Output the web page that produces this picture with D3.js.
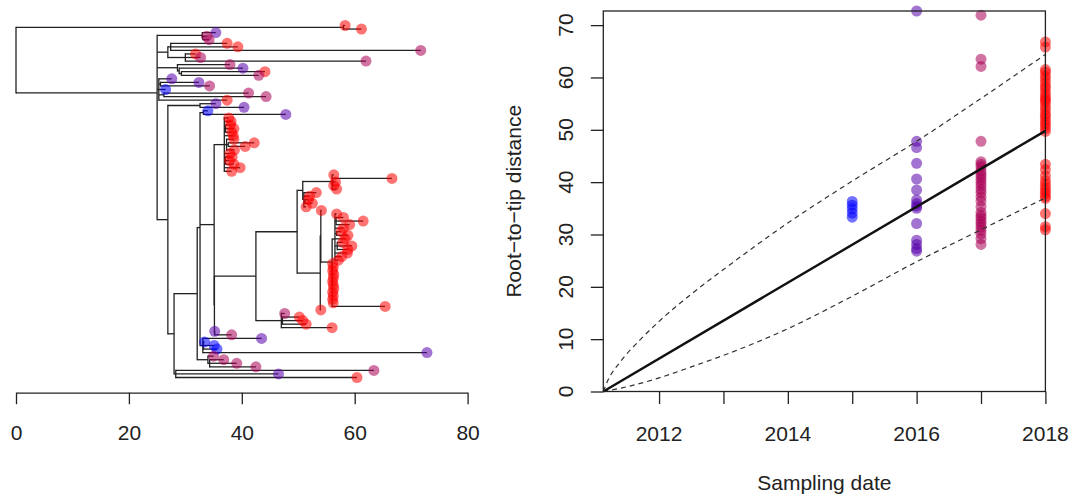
<!DOCTYPE html>
<html>
<head>
<meta charset="utf-8">
<script src="https://cdn.jsdelivr.net/npm/d3@7"></script>
<style>
  body { margin: 0; background: #fff; }
  text { font-family: "Liberation Sans", Arial, sans-serif; fill: #222; }
</style>
</head>
<body>
<svg id="chart" width="1078" height="503"></svg>
<script>
// tree in newick; each tip label is the last digit of its sampling year
const treeNewick =
  "((8:0.3,8:3.2):58.0," +
  "((6:2.4,(7:0.7,7:1.1):0.1):8.0," +
  "((8:10.0,8:11.9,7:44.3):0.5,(8:1.8,7:2.7,7:32.0):3.1):1.9," +
  "(7:9.3,(6:11.3,(8:14.8,7:13.7):0.4):0.3):3.6," +
  "(6:2.3,(6:6.8,7:8.7):0.3,5:1.2,(7:15.0,7:18.1):0.9,8:12.1):0.3," +
  "((6:2.8,6:7.8):5.7," +
   "((((5:0.8,6:14.6):0.6," +
      "((8:0.8,8:1.2,(8:0.9,8:1.5,8:1.1):0.2,8:1.6,(8:1.3,(8:4.6,8:3.0):0.3,8:1.4):0.4,8:1.0,(8:1.2,8:0.7,8:1.5):0.2,8:2.8,8:1.3):1.8," +
       "(((((8:0.3,8:10.6,(8:0.5,8:0.2):0.1,8:0.8):5.2,(8:2.2,8:1.0,(8:0.6,8:1.3):0.2,8:0.4):0.2):1.0," +
           "((8:0.1,((8:0.3,(8:1.3,8:4.8,8:2.4):0.2,8:1.5,(8:0.8,8:2.0):0.3,8:1.8,(8:1.0,8:2.6,8:1.9):0.4,8:2.2,8:1.2,8:0.6):0.5," +
                   "(8:0.1,8:0.2,8:0.1,8:0.3,8:0.2,8:0.1,8:0.2,8:0.3,8:0.1,8:0.2,8:0.1,8:0.2,8:9.4):0.0):2.0):0.1,8:0.1):4.1):7.3," +
          "(7:0.6,(8:3.0,8:3.6,8:4.2):0.2,8:9.0):4.5):7.35," +
         "(6:0.0,7:3.0):0.05):0.05):2.5," +
      "(6:10.4,(5:0.2,5:1.9,5:2.4):0.1,6:39.7):0.5):0.5," +
     "(7:1.0,(7:2.5,7:4.8,7:8.2):0.3):1.9):4.1," +
    "(7:35.1,6:18.2,8:32.1):0.3):1.1):1.9):25.0);";

const sampleYears = [2015, 2016, 2017, 2018];
const yearColors = ["rgba(0,0,255,0.55)", "rgba(85,0,170,0.55)", "rgba(170,0,85,0.55)", "rgba(255,0,0,0.55)"];

// root-to-tip distances per sampling year (right panel)
const dist2015 = [36.3, 35.6, 34.9, 34.1, 33.3];
const dist2016 = [72.7, 47.8, 46.6, 43.6, 40.6, 38.5, 36.6, 35.9, 35.4, 35.0, 32.1, 28.9, 28.1, 27.3, 26.8];
const dist2017 = [71.9, 63.5, 62.1, 47.8, 43.9, 43.4, 42.9, 42.2, 41.6, 41.1, 40.5, 39.9, 39.3, 38.6, 38.0,
                  37.2, 36.4, 35.3, 34.2, 33.6, 33.1, 32.5, 32.0, 31.4, 30.8, 30.1, 29.2, 28.1];
const dist2018 = [66.8, 65.8, 61.5, 61.0, 60.3, 59.7, 59.0, 58.3, 57.8, 57.1, 56.5, 56.0, 55.6, 55.1, 54.4,
                  53.8, 53.1, 52.6, 52.0, 51.4, 50.9, 50.3, 49.7, 43.4, 42.4, 41.2, 40.3, 39.6, 39.0, 38.4,
                  37.9, 37.3, 36.9, 34.0, 31.5, 30.9];

// regression and its envelope
const fitLine = [[2011.134, 0], [2018, 49.8]];
const upperBand = [[2011.134, 0], [2011.2, 2.0], [2011.4, 5.7], [2011.7, 9.8], [2012, 13.4], [2012.5, 18.6],
                   [2013, 23.3], [2014, 32.2], [2015, 40.2], [2016, 47.8], [2017, 56.0], [2018, 64.4]];
const lowerBand = [[2011.134, 0], [2011.5, 0.9], [2012, 2.6], [2012.5, 4.7], [2013, 6.9], [2014, 12.0],
                   [2015, 18.2], [2016, 24.8], [2017, 30.9], [2018, 37.0]];

const treeTicks = [0, 20, 40, 60, 80];
const yearTicks = [2012, 2013, 2014, 2015, 2016, 2017, 2018];
const yearLabels = [2012, 2014, 2016, 2018];
const distTicks = [0, 10, 20, 30, 40, 50, 60, 70];

const svg = d3.select("#chart");
const ink = "#222";
const fontSize = "21px";

function parseNewick(s) {
  let i = 0;
  function node() {
    const n = {};
    if (s[i] === "(") {
      n.children = [];
      i++;
      n.children.push(node());
      while (s[i] === ",") { i++; n.children.push(node()); }
      i++;
    }
    let lab = "";
    while (i < s.length && !":,();".includes(s[i])) lab += s[i++];
    n.name = lab;
    n.length = 0;
    if (s[i] === ":") {
      i++;
      let num = "";
      while (i < s.length && !",();".includes(s[i])) num += s[i++];
      n.length = +num;
    }
    return n;
  }
  return node();
}

// ---------- left panel: tree ----------
const root = d3.hierarchy(parseNewick(treeNewick));
root.eachBefore(d => d.dist = d.parent ? d.parent.dist + d.data.length : 0);
const tips = root.leaves();
tips.forEach((d, i) => d.tipIndex = i);
root.eachAfter(d => d.ty = d.children ? d3.mean(d.children, c => c.ty) : d.tipIndex);

const tx = d3.scaleLinear().domain([0, 80]).range([16, 467.6]);
const ty = d3.scaleLinear().domain([0, tips.length - 1]).range([25.5, 377.5]);

const treeG = svg.append("g");

treeG.selectAll(".hedge")
  .data(root.descendants().filter(d => d.parent))
  .enter()
  .append("line")
  .attr("x1", d => tx(d.parent.dist))
  .attr("x2", d => tx(d.dist))
  .attr("y1", d => ty(d.ty))
  .attr("y2", d => ty(d.ty))
  .attr("stroke", ink)
  .attr("stroke-width", 1.3);

treeG.selectAll(".vedge")
  .data(root.descendants().filter(d => d.children))
  .enter()
  .append("line")
  .attr("x1", d => tx(d.dist))
  .attr("x2", d => tx(d.dist))
  .attr("y1", d => ty(d.children[0].ty) - 0.65)
  .attr("y2", d => ty(d.children[d.children.length - 1].ty) + 0.65)
  .attr("stroke", ink)
  .attr("stroke-width", 1.3);

treeG.selectAll(".tip")
  .data(tips)
  .enter()
  .append("circle")
  .attr("cx", d => tx(d.dist))
  .attr("cy", d => ty(d.ty))
  .attr("r", 5.5)
  .attr("fill", d => yearColors[sampleYears.indexOf(2010 + (+d.data.name))]);

const treeAxis = svg.append("g")
  .attr("transform", "translate(0, 392.7)")
  .call(d3.axisBottom(tx).tickValues(treeTicks).tickSize(11.5).tickSizeOuter(0).tickPadding(20.5));
treeAxis.selectAll("path, line").attr("stroke", ink).attr("stroke-width", 1.3);
treeAxis.selectAll("text").style("font-size", fontSize).style("font-family", "Liberation Sans, Arial, sans-serif").attr("fill", ink);

// ---------- right panel: root-to-tip regression ----------
const x = d3.scaleLinear().domain([2011.134, 2018]).range([603.3, 1045.4]);
const y = d3.scaleLinear().domain([0, 72.7]).range([391.5, 11]);

const points = [dist2015, dist2016, dist2017, dist2018]
  .flatMap((arr, k) => arr.map(v => ({ year: sampleYears[k], dist: v })));

svg.selectAll(".dot")
  .data(points)
  .enter()
  .append("circle")
  .attr("class", "dot")
  .attr("cx", d => x(d.year))
  .attr("cy", d => y(d.dist))
  .attr("r", 5.5)
  .attr("fill", d => yearColors[sampleYears.indexOf(d.year)]);

const line = d3.line().x(d => x(d[0])).y(d => y(d[1]));
const curve = d3.line().x(d => x(d[0])).y(d => y(d[1])).curve(d3.curveMonotoneX);

svg.append("path").attr("d", curve(upperBand))
  .attr("fill", "none").attr("stroke", "#333").attr("stroke-width", 1.2).attr("stroke-dasharray", "5,4");
svg.append("path").attr("d", curve(lowerBand))
  .attr("fill", "none").attr("stroke", "#333").attr("stroke-width", 1.2).attr("stroke-dasharray", "5,4");
svg.append("path").attr("d", line(fitLine))
  .attr("fill", "none").attr("stroke", "#111").attr("stroke-width", 2.4);

// box
svg.append("rect")
  .attr("x", 603.3).attr("y", 11)
  .attr("width", 1045.4 - 603.3).attr("height", 391.5 - 11)
  .attr("fill", "none").attr("stroke", ink).attr("stroke-width", 1.3);

const xAxis = svg.append("g")
  .attr("transform", "translate(0, 391.5)")
  .call(d3.axisBottom(x).tickValues(yearTicks).tickSize(12.5).tickSizeOuter(0)
    .tickFormat(d => yearLabels.includes(d) ? d : ""));
xAxis.select(".domain").remove();
xAxis.selectAll("line").attr("stroke", ink).attr("stroke-width", 1.3);
xAxis.selectAll("text").remove();

svg.selectAll(".xlab")
  .data(yearLabels)
  .enter()
  .append("text")
  .attr("x", d => x(d))
  .attr("y", 440.5)
  .attr("text-anchor", "middle")
  .style("font-size", fontSize)
  .text(d => d);

const yAxis = svg.append("g")
  .attr("transform", "translate(603.3, 0)")
  .call(d3.axisLeft(y).tickValues(distTicks).tickSize(12.5).tickSizeOuter(0).tickFormat(""));
yAxis.select(".domain").remove();
yAxis.selectAll("line").attr("stroke", ink).attr("stroke-width", 1.3);

svg.selectAll(".ylab")
  .data(distTicks)
  .enter()
  .append("text")
  .attr("transform", d => `translate(573, ${y(d)}) rotate(-90)`)
  .attr("text-anchor", "middle")
  .style("font-size", fontSize)
  .text(d => d);

svg.append("text")
  .attr("x", (603.3 + 1045.4) / 2)
  .attr("y", 490)
  .attr("text-anchor", "middle")
  .style("font-size", fontSize)
  .text("Sampling date");

svg.append("text")
  .attr("transform", `translate(521, ${(11 + 391.5) / 2}) rotate(-90)`)
  .attr("text-anchor", "middle")
  .style("font-size", fontSize)
  .text("Root\u2212to\u2212tip distance");
</script>
</body>
</html>
